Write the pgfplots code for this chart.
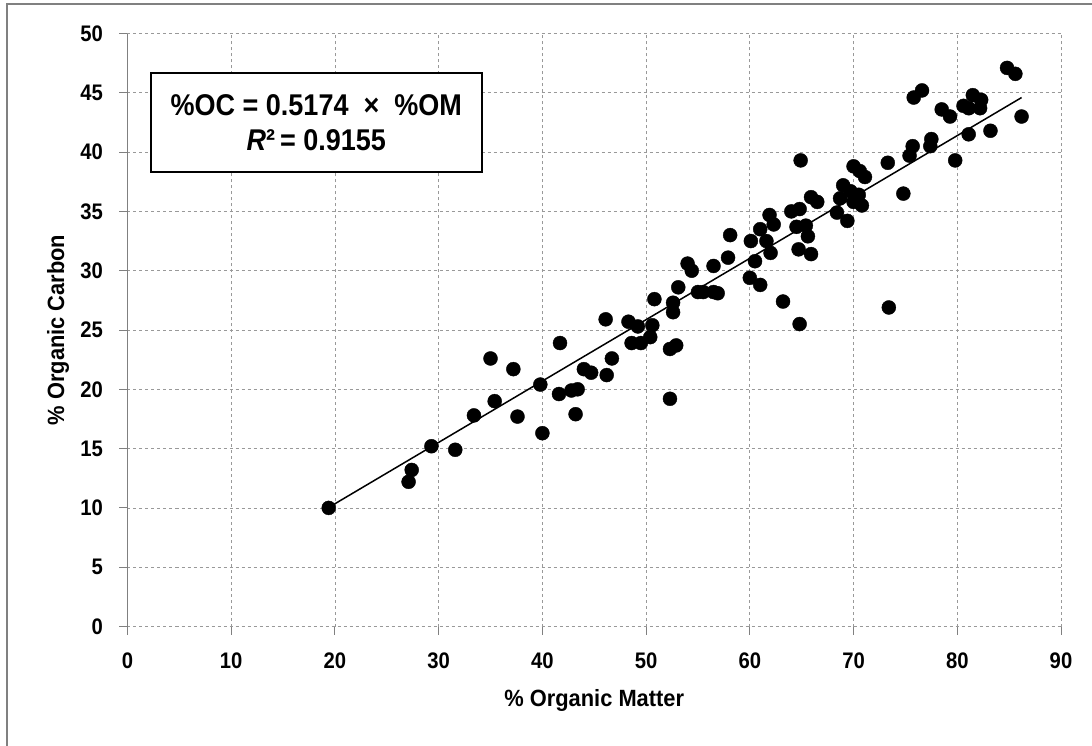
\documentclass[border=0pt]{standalone}
\usepackage{fontspec}
\setmainfont{Liberation Sans}
\newfontfamily\boxfont{Liberation Sans}[FakeStretch=0.9]
\newfontfamily\lblfont{Liberation Sans}[FakeStretch=0.93]
\newfontfamily\tickfont{Liberation Sans}[FakeStretch=0.9]
\usepackage{pgfplots}
\pgfplotsset{compat=1.18}
\pgfplotstableread{
x y
19.4 10.0
27.1 12.2
27.4 13.2
29.3 15.2
31.6 14.9
33.4 17.8
35.0 22.6
35.4 19.0
37.2 21.7
37.6 17.7
39.8 20.4
40.0 16.3
41.6 19.6
41.7 23.9
42.8 19.9
43.2 17.9
43.4 20.0
44.0 21.7
44.7 21.4
46.1 25.9
46.2 21.2
46.7 22.6
48.3 25.7
48.6 23.9
49.2 25.3
49.5 23.9
50.4 24.4
50.6 25.4
50.8 27.6
52.3 19.2
52.3 23.4
52.6 27.3
52.6 26.5
52.9 23.7
53.1 28.6
54.0 30.6
54.4 30.0
55.0 28.2
55.5 28.2
56.5 30.4
56.5 28.2
56.9 28.1
57.9 31.1
58.1 33.0
60.0 29.4
60.1 32.5
60.5 30.8
61.0 28.8
61.0 33.5
61.6 32.5
61.9 34.7
62.0 31.5
62.3 33.9
63.2 27.4
64.0 35.0
64.5 33.7
64.7 31.8
64.8 35.2
64.8 25.5
64.9 39.3
65.4 33.8
65.6 32.9
65.9 31.4
65.9 36.2
66.5 35.8
68.4 34.9
68.7 36.1
69.0 37.2
69.4 34.2
69.7 36.7
70.0 35.8
70.0 38.8
70.5 36.4
70.6 38.4
70.8 35.5
71.1 37.9
73.3 39.1
73.4 26.9
74.8 36.5
75.4 39.7
75.7 40.5
75.8 44.6
76.6 45.2
77.4 40.5
77.5 41.1
78.5 43.6
79.3 43.0
79.8 39.3
80.6 43.9
81.1 43.7
81.1 41.5
81.5 44.8
82.2 43.7
82.3 44.4
83.2 41.8
84.8 47.1
85.6 46.6
86.2 43.0
}\datatable
\begin{document}
\begin{tikzpicture}
\useasboundingbox (-127.5pt,-118.5pt) rectangle (964.5pt,626.5pt);
\draw[gray, line width=1.5pt] (-120.5pt,-130pt) -- (-120.5pt,622.5pt) -- (980pt,622.5pt);
\begin{axis}[
  at={(0,0)}, anchor=south west,
  scale only axis, width=933.5pt, height=593pt,
  xmin=0, xmax=90, ymin=0, ymax=50,
  xtick={0,10,...,90}, ytick={0,5,...,50},
  axis lines*=left,
  x axis line style={draw=none},
  y axis line style={gray, line width=1.2pt},
  tick align=outside, major tick length=8pt,
  tick style={gray, line width=1pt},
  grid=major,
  major grid style={gray!80, dashed, line width=0.8pt},
  /pgf/number format/assume math mode=true,
  ticklabel style={font=\tickfont\bfseries\fontsize{22.5}{26}\selectfont},
  xticklabel style={yshift=-15pt},
  yticklabel style={xshift=-13pt},
  label style={font=\lblfont\bfseries\fontsize{23.5}{27}\selectfont},
  xlabel={\% Organic Matter},
  ylabel={\% Organic Carbon},
  xlabel style={at={(rel axis cs:0.5,0)}, anchor=base, yshift=-80pt},
  ylabel style={at={(rel axis cs:0,0.5)}, anchor=center, yshift=69.5pt},
  clip=false,
]
\addplot[only marks, mark=*, mark size=7pt, black] table[x=x, y=y] {\datatable};
\addplot[black, line width=1.5pt, no marks] coordinates {(19.4,10.04) (86.2,44.60)};
\node[draw=black, line width=1.5pt, fill=white, minimum width=331pt, minimum height=99pt,
  align=center, inner sep=0pt, font=\boxfont\bfseries\fontsize{30}{35}\selectfont]
  at (axis cs:18.2,42.5) {\%OC = 0.5174~~×~~\%OM\\\textit{R}²\,= 0.9155};
\end{axis}
\end{tikzpicture}
\end{document}
